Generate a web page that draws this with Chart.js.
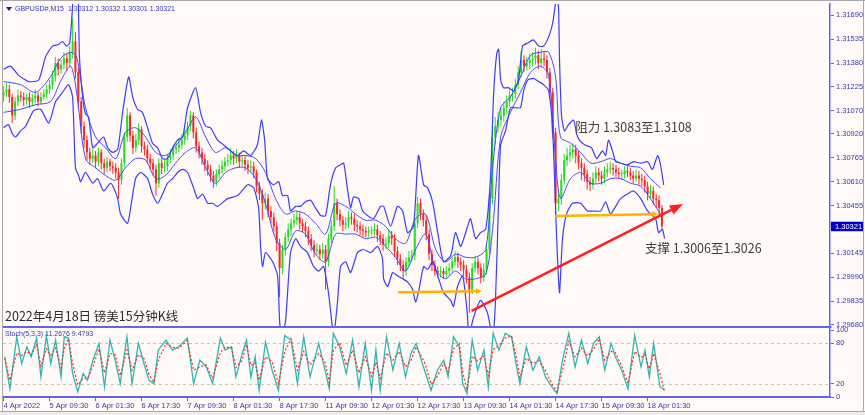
<!DOCTYPE html>
<html lang="zh">
<head>
<meta charset="utf-8">
<title>GBPUSD M15</title>
<script src="https://cdn.jsdelivr.net/npm/chart.js@4.4.1/dist/chart.umd.min.js"></script>
<style>
html,body{margin:0;padding:0;background:#fffaf7;overflow:hidden;}
#wrap{position:relative;width:865px;height:415px;background:#fffaf7;}
#c1{position:absolute;left:0;top:0;}
#c2{position:absolute;left:0;top:327px;}
</style>
</head>
<body>
<div id="wrap">
<canvas id="c1" width="865" height="328"></canvas>
<canvas id="c2" width="865" height="88"></canvas>
</div>
<script>
// ---------- DATA (hourly aggregation of the M15 chart, x = hour index) ----------
const hourLabels = ["4 Apr 2022","5 Apr 09:30","6 Apr 01:30","6 Apr 17:30","7 Apr 09:30","8 Apr 01:30","8 Apr 17:30","11 Apr 09:30","12 Apr 01:30","12 Apr 17:30","13 Apr 09:30","14 Apr 01:30","14 Apr 17:30","15 Apr 09:30","18 Apr 01:30"];
const labelHours = [0,16,32,48,64,80,96,112,128,144,160,176,192,208,224];
const priceTicks = [1.31690,1.31535,1.31380,1.31225,1.31070,1.30920,1.30765,1.30610,1.30455,1.30145,1.29990,1.29835,1.29680];
const stochTicks = [0,20,80,100];
const lastBar = ["1.30312","1.30332","1.30301","1.30321"];
const stochNow = ["11.2676","9.4793"];

const openP = [
1.3117,1.3119,1.3121,1.3116,1.3104,1.3113,1.3117,1.3116,1.3114,1.3116,
1.3113,1.3115,1.3117,1.3113,1.3116,1.3118,1.3121,1.3124,1.3129,1.3138,
1.3134,1.3137,1.3141,1.3138,1.3145,1.3152,1.3132,1.3113,1.3097,1.3088,
1.3080,1.3076,1.3078,1.3074,1.3080,1.3073,1.3070,1.3074,1.3071,1.3070,
1.3067,1.3062,1.3073,1.3090,1.3104,1.3091,1.3083,1.3088,1.3095,1.3084,
1.3082,1.3076,1.3073,1.3069,1.3060,1.3073,1.3070,1.3071,1.3076,1.3078,
1.3082,1.3083,1.3085,1.3088,1.3091,1.3097,1.3104,1.3093,1.3084,1.3080,
1.3076,1.3072,1.3069,1.3065,1.3061,1.3066,1.3069,1.3071,1.3074,1.3075,
1.3078,1.3076,1.3078,1.3074,1.3075,1.3072,1.3070,1.3071,1.3067,1.3058,
1.3053,1.3047,1.3050,1.3042,1.3038,1.3032,1.3021,1.3005,1.3017,1.3025,
1.3030,1.3034,1.3036,1.3038,1.3034,1.3032,1.3029,1.3024,1.3020,1.3016,
1.3017,1.3014,1.3017,1.3009,1.3024,1.3032,1.3047,1.3040,1.3036,1.3033,
1.3034,1.3038,1.3037,1.3033,1.3032,1.3030,1.3029,1.3028,1.3029,1.3029,
1.3030,1.3026,1.3024,1.3020,1.3021,1.3026,1.3024,1.3016,1.3011,1.3007,
1.3003,1.3009,1.3012,1.3013,1.3034,1.3047,1.3040,1.3036,1.3027,1.3014,
1.3007,1.3003,1.3002,1.3003,1.3001,1.3003,1.3005,1.3009,1.3012,1.3009,
1.3007,1.3004,1.2999,1.2991,1.3005,1.3009,1.3005,1.2999,1.3004,1.3017,
1.3050,1.3090,1.3097,1.3101,1.3104,1.3109,1.3113,1.3117,1.3118,1.3124,
1.3132,1.3140,1.3136,1.3138,1.3140,1.3141,1.3143,1.3138,1.3141,1.3140,
1.3132,1.3119,1.3093,1.3047,1.3050,1.3062,1.3075,1.3078,1.3080,1.3082,
1.3078,1.3073,1.3070,1.3066,1.3061,1.3059,1.3063,1.3067,1.3065,1.3063,
1.3067,1.3069,1.3070,1.3069,1.3067,1.3066,1.3066,1.3068,1.3067,1.3065,
1.3063,1.3065,1.3063,1.3062,1.3058,1.3053,1.3055,1.3050,1.3049,1.3044];
const closeP = [
1.3119,1.3121,1.3116,1.3104,1.3113,1.3117,1.3116,1.3114,1.3116,1.3113,
1.3115,1.3117,1.3113,1.3116,1.3118,1.3121,1.3124,1.3129,1.3138,1.3134,
1.3137,1.3141,1.3138,1.3145,1.3152,1.3132,1.3113,1.3097,1.3088,1.3080,
1.3076,1.3078,1.3074,1.3080,1.3073,1.3070,1.3074,1.3071,1.3070,1.3067,
1.3062,1.3073,1.3090,1.3104,1.3091,1.3083,1.3088,1.3095,1.3084,1.3082,
1.3076,1.3073,1.3069,1.3060,1.3073,1.3070,1.3071,1.3076,1.3078,1.3082,
1.3083,1.3085,1.3088,1.3091,1.3097,1.3104,1.3093,1.3084,1.3080,1.3076,
1.3072,1.3069,1.3065,1.3061,1.3066,1.3069,1.3071,1.3074,1.3075,1.3078,
1.3076,1.3078,1.3074,1.3075,1.3072,1.3070,1.3071,1.3067,1.3058,1.3053,
1.3047,1.3050,1.3042,1.3038,1.3032,1.3021,1.3005,1.3017,1.3025,1.3030,
1.3034,1.3036,1.3038,1.3034,1.3032,1.3029,1.3024,1.3020,1.3016,1.3017,
1.3014,1.3017,1.3009,1.3024,1.3032,1.3047,1.3040,1.3036,1.3033,1.3034,
1.3038,1.3037,1.3033,1.3032,1.3030,1.3029,1.3028,1.3029,1.3029,1.3030,
1.3026,1.3024,1.3020,1.3021,1.3026,1.3024,1.3016,1.3011,1.3007,1.3003,
1.3009,1.3012,1.3013,1.3034,1.3047,1.3040,1.3036,1.3027,1.3014,1.3007,
1.3003,1.3002,1.3003,1.3001,1.3003,1.3005,1.3009,1.3012,1.3009,1.3007,
1.3004,1.2999,1.2991,1.3005,1.3009,1.3005,1.2999,1.3004,1.3017,1.3050,
1.3090,1.3097,1.3101,1.3104,1.3109,1.3113,1.3117,1.3118,1.3124,1.3132,
1.3140,1.3136,1.3138,1.3140,1.3141,1.3143,1.3138,1.3141,1.3140,1.3132,
1.3119,1.3093,1.3047,1.3050,1.3062,1.3075,1.3078,1.3080,1.3082,1.3078,
1.3073,1.3070,1.3066,1.3061,1.3059,1.3063,1.3067,1.3065,1.3063,1.3067,
1.3069,1.3070,1.3069,1.3067,1.3066,1.3066,1.3068,1.3067,1.3065,1.3063,
1.3065,1.3063,1.3062,1.3058,1.3053,1.3055,1.3050,1.3049,1.3044,1.30321];
const highP = [
1.3123,1.3125,1.3124,1.3118,1.3116,1.3121,1.3120,1.3119,1.3118,1.3119,
1.3118,1.3121,1.3119,1.3119,1.3121,1.3124,1.3127,1.3133,1.3142,1.3141,
1.3140,1.3145,1.3144,1.3149,1.3167,1.3158,1.3135,1.3116,1.3100,1.3091,
1.3083,1.3082,1.3081,1.3083,1.3082,1.3076,1.3077,1.3076,1.3074,1.3073,
1.3070,1.3076,1.3093,1.3109,1.3106,1.3094,1.3092,1.3099,1.3097,1.3087,
1.3085,1.3079,1.3076,1.3072,1.3076,1.3076,1.3075,1.3079,1.3082,1.3085,
1.3087,1.3089,1.3092,1.3095,1.3100,1.3107,1.3106,1.3096,1.3087,1.3083,
1.3079,1.3075,1.3072,1.3068,1.3069,1.3072,1.3075,1.3077,1.3079,1.3083,
1.3081,1.3082,1.3080,1.3078,1.3078,1.3075,1.3075,1.3074,1.3069,1.3061,
1.3056,1.3054,1.3053,1.3045,1.3041,1.3035,1.3024,1.3020,1.3028,1.3034,
1.3037,1.3040,1.3042,1.3041,1.3037,1.3035,1.3032,1.3027,1.3023,1.3021,
1.3020,1.3021,1.3020,1.3027,1.3036,1.3058,1.3050,1.3043,1.3039,1.3038,
1.3042,1.3041,1.3040,1.3036,1.3035,1.3033,1.3032,1.3032,1.3032,1.3034,
1.3033,1.3029,1.3027,1.3025,1.3030,1.3029,1.3027,1.3019,1.3014,1.3010,
1.3012,1.3016,1.3017,1.3037,1.3051,1.3050,1.3043,1.3039,1.3030,1.3017,
1.3010,1.3006,1.3006,1.3005,1.3006,1.3008,1.3012,1.3016,1.3015,1.3012,
1.3010,1.3007,1.3002,1.3008,1.3013,1.3012,1.3008,1.3008,1.3020,1.3054,
1.3094,1.3103,1.3106,1.3109,1.3113,1.3117,1.3121,1.3122,1.3128,1.3136,
1.3146,1.3143,1.3142,1.3144,1.3145,1.3148,1.3146,1.3147,1.3145,1.3143,
1.3135,1.3122,1.3096,1.3056,1.3066,1.3079,1.3083,1.3085,1.3086,1.3085,
1.3081,1.3076,1.3073,1.3069,1.3064,1.3067,1.3071,1.3070,1.3068,1.3071,
1.3073,1.3074,1.3073,1.3072,1.3070,1.3069,1.3071,1.3071,1.3070,1.3068,
1.3069,1.3068,1.3066,1.3065,1.3061,1.3059,1.3058,1.3053,1.3052,1.3046];
const lowP = [
1.3113,1.3116,1.3112,1.3099,1.3101,1.3110,1.3113,1.3110,1.3111,1.3109,
1.3110,1.3112,1.3110,1.3111,1.3114,1.3115,1.3118,1.3121,1.3126,1.3130,
1.3131,1.3134,1.3133,1.3135,1.3141,1.3128,1.3108,1.3092,1.3083,1.3075,
1.3072,1.3073,1.3070,1.3071,1.3069,1.3066,1.3067,1.3068,1.3066,1.3063,
1.3050,1.3059,1.3070,1.3087,1.3087,1.3079,1.3080,1.3085,1.3080,1.3078,
1.3073,1.3069,1.3065,1.3052,1.3057,1.3066,1.3067,1.3068,1.3073,1.3075,
1.3079,1.3080,1.3082,1.3085,1.3088,1.3094,1.3089,1.3080,1.3076,1.3072,
1.3068,1.3065,1.3061,1.3057,1.3058,1.3063,1.3066,1.3068,1.3071,1.3072,
1.3072,1.3073,1.3070,1.3071,1.3068,1.3066,1.3067,1.3063,1.3054,1.3049,
1.3036,1.3043,1.3038,1.3034,1.3028,1.3016,1.2986,1.3001,1.3013,1.3022,
1.3026,1.3031,1.3033,1.3030,1.3028,1.3025,1.3020,1.3016,1.3012,1.3013,
1.3010,1.3011,1.2991,1.3006,1.3021,1.3029,1.3036,1.3032,1.3029,1.3030,
1.3031,1.3033,1.3029,1.3028,1.3026,1.3025,1.3025,1.3025,1.3026,1.3026,
1.3022,1.3020,1.3016,1.3017,1.3018,1.3020,1.3012,1.3007,1.3003,1.2998,
1.3000,1.3006,1.3009,1.3010,1.3031,1.3036,1.3032,1.3023,1.3010,1.3003,
1.3000,1.2999,1.2999,1.2998,1.2998,1.3000,1.3002,1.3006,1.3005,1.3003,
1.3000,1.2995,1.2976,1.2988,1.3002,1.3001,1.2995,1.2996,1.3001,1.3014,
1.3046,1.3085,1.3093,1.3097,1.3100,1.3105,1.3110,1.3113,1.3115,1.3121,
1.3129,1.3132,1.3133,1.3134,1.3136,1.3137,1.3134,1.3135,1.3136,1.3128,
1.3115,1.3089,1.3038,1.3042,1.3046,1.3059,1.3071,1.3074,1.3076,1.3073,
1.3069,1.3062,1.3061,1.3056,1.3055,1.3056,1.3060,1.3061,1.3059,1.3060,
1.3064,1.3066,1.3065,1.3064,1.3063,1.3062,1.3063,1.3064,1.3062,1.3060,
1.3061,1.3059,1.3058,1.3054,1.3049,1.3050,1.3046,1.3044,1.3039,1.3030];

// outer bands
const upperX = [0,2.4,5.2,8.7,12.2,14.6,17,19.1,20.5,21.9,23,24,24.7,25.7,26.4,27.5,28.5,29.6,31,32.7,34.8,36.2,37.9,39.7,41.4,43.5,44.9,46.6,48.3,50.1,51.8,53.6,55.3,57,58.8,60.5,62.3,64,66.8,68.5,70.3,72,74.4,76.5,79,81.4,83.5,85.9,88.3,89.7,90.8,91.8,93.9,95.7,97,98.8,99.8,101.6,103.3,105,106.8,108.5,110.3,112,113.7,115.5,117.2,118.3,119.7,120.7,121.7,123.5,124.9,126.6,128.7,131.1,132.2,134.6,137,138.8,140.5,142.6,144.3,146.1,147.5,149.2,151,153,155.5,157.2,159,161.4,162.4,164.2,165.9,167.7,169.4,170.4,171.5,172.2,172.9,173.9,175.7,177.4,179.1,180.5,182.3,184.3,186.1,187.8,189.6,191,192.3,193,193.4,194.1,195.1,196.5,198.3,199.3,200.3,202.1,204.5,206.3,208.3,209.4,210.4,211.8,212.9,214.6,217,219.1,221.6,224,225.7,227.5,228.5,229.6];
const upperY = [1.3134,1.3136,1.3130,1.3126,1.3127,1.3142,1.3149,1.3150,1.3152,1.3149,1.3151,1.3175,1.3200,1.3200,1.3142,1.3116,1.3105,1.3103,1.3083,1.3086,1.3090,1.3083,1.3080,1.3082,1.3106,1.3129,1.3116,1.3108,1.3106,1.3096,1.3086,1.3083,1.3076,1.3076,1.3083,1.3088,1.3090,1.3109,1.3122,1.3106,1.3097,1.3096,1.3088,1.3085,1.3081,1.3078,1.3081,1.3078,1.3085,1.3101,1.3088,1.3063,1.3059,1.3061,1.3052,1.3052,1.3042,1.3045,1.3045,1.3048,1.3049,1.3044,1.3039,1.3039,1.3059,1.3070,1.3072,1.3073,1.3055,1.3044,1.3051,1.3050,1.3042,1.3039,1.3037,1.3045,1.3045,1.3032,1.3045,1.3042,1.3028,1.3032,1.3078,1.3059,1.3057,1.3048,1.3028,1.3009,1.3013,1.3028,1.3019,1.3032,1.3037,1.3024,1.3028,1.3030,1.3065,1.3116,1.3144,1.3147,1.3127,1.3122,1.3122,1.3120,1.3127,1.3149,1.3151,1.3153,1.3149,1.3149,1.3155,1.3164,1.3180,1.3175,1.3138,1.3103,1.3094,1.3098,1.3101,1.3092,1.3088,1.3085,1.3083,1.3076,1.3081,1.3078,1.3088,1.3081,1.3074,1.3073,1.3072,1.3074,1.3073,1.3074,1.3069,1.3078,1.3072,1.3059];
const lowerX = [0,1.7,3.1,4.2,5.9,7.7,10.4,12.9,15.7,18.1,20.5,22.6,24,25,26.1,26.8,28.5,31,32.7,34.8,37.2,38.3,39.7,40.7,43.1,44.2,45.9,47.7,50.1,51.8,53.6,55.3,57,58.8,60.5,62.3,64,66.1,67.5,69.2,71,72.7,74.4,77.9,81.4,84.9,87,88.7,89.4,90.1,91.1,93.6,95.3,96,96.7,98.1,99.8,101.6,103.3,105.7,107.8,109.6,111.3,113,114.1,114.8,116.2,117.2,119,120.7,123.1,125.2,127.7,130.1,131.8,132.2,133.6,135.3,137,138.8,140.5,142.3,143.3,144.3,146.1,147.5,149.2,151,153,155.5,156.5,157.9,159.7,161.4,161.7,163.5,165.9,168.3,170.1,171.1,172.2,172.9,174.6,176.3,178.1,179.8,180.9,182.3,184.3,186.1,187.8,189.6,191,192.3,193,193.4,194.4,195.8,197.9,200.7,203.1,205.2,207.7,209.4,211.1,212.9,214.6,217,219.1,221.6,224,226.8,227.8,229.2,229.9];
const lowerY = [1.3096,1.3098,1.3092,1.3090,1.3094,1.3097,1.3107,1.3108,1.3099,1.3113,1.3119,1.3124,1.3116,1.3070,1.3065,1.3061,1.3067,1.3060,1.3063,1.3055,1.3060,1.3057,1.3050,1.3040,1.3034,1.3044,1.3063,1.3067,1.3063,1.3053,1.3047,1.3053,1.3060,1.3063,1.3067,1.3069,1.3067,1.3057,1.3050,1.3053,1.3047,1.3047,1.3045,1.3050,1.3052,1.3059,1.3057,1.3044,1.3019,1.3006,1.3015,1.3009,1.3000,1.2971,1.2960,1.2971,1.3015,1.3024,1.3019,1.3015,1.3006,1.3003,1.3006,1.2989,1.2971,1.2960,1.2984,1.3006,1.3009,1.3002,1.3015,1.3017,1.3015,1.3019,1.3011,1.2998,1.2993,1.3002,1.3000,1.2998,1.2996,1.2991,1.2983,1.2989,1.3006,1.3004,1.3009,1.3000,1.2989,1.2984,1.2980,1.2993,1.3000,1.2973,1.2960,1.2973,1.2984,1.2976,1.2960,1.2984,1.3050,1.3085,1.3094,1.3109,1.3109,1.3109,1.3120,1.3127,1.3128,1.3126,1.3124,1.3120,1.3094,1.3028,1.2998,1.2989,1.3024,1.3040,1.3047,1.3047,1.3042,1.3042,1.3042,1.3048,1.3040,1.3045,1.3050,1.3053,1.3055,1.3050,1.3042,1.3037,1.3028,1.3030,1.3024];
// inner bands
const innerX = [0,5.9,11.1,16.3,19.8,23.3,25.4,28.5,32,35.5,39,42.4,45.9,49.4,52.9,56.3,59.8,63.3,66.8,70.3,73.7,77.2,80.7,84.2,87.7,91.1,94.6,98.1,101.6,105,108.5,112,115.5,119,122.4,125.9,129.4,132.9,136.3,139.8,143.3,146.8,150.3,153.7,157.2,160.7,164.2,167.7,170.1,172.9,176.3,179.8,183.3,186.8,189.6,192,193.7,197.2,200.7,204.2,207.7,211.1,214.6,218.1,221.6,225,228.5];
const innerUp = [1.3126,1.3124,1.3119,1.3129,1.3141,1.3145,1.3142,1.3109,1.3090,1.3083,1.3076,1.3093,1.3096,1.3090,1.3080,1.3078,1.3084,1.3093,1.3103,1.3090,1.3080,1.3083,1.3078,1.3078,1.3076,1.3067,1.3050,1.3040,1.3042,1.3040,1.3034,1.3027,1.3047,1.3045,1.3040,1.3036,1.3036,1.3032,1.3024,1.3021,1.3037,1.3040,1.3017,1.3009,1.3014,1.3012,1.3012,1.3017,1.3070,1.3109,1.3116,1.3129,1.3143,1.3145,1.3145,1.3129,1.3090,1.3086,1.3080,1.3073,1.3074,1.3076,1.3073,1.3071,1.3070,1.3063,1.3057];
const innerLo = [1.3106,1.3108,1.3111,1.3113,1.3126,1.3136,1.3119,1.3076,1.3070,1.3065,1.3062,1.3070,1.3076,1.3075,1.3063,1.3065,1.3073,1.3080,1.3083,1.3070,1.3060,1.3067,1.3070,1.3070,1.3063,1.3047,1.3024,1.3017,1.3029,1.3027,1.3014,1.3009,1.3027,1.3027,1.3027,1.3024,1.3025,1.3019,1.3012,1.3003,1.3017,1.3027,1.3004,1.2998,1.3003,1.2998,1.2998,1.3001,1.3030,1.3090,1.3106,1.3119,1.3132,1.3136,1.3130,1.3076,1.3050,1.3063,1.3067,1.3060,1.3060,1.3063,1.3063,1.3060,1.3058,1.3050,1.3040];

// stochastic (5,3,3)
const stochX = [0.4,2.2,4.6,6.3,8.1,9.6,11.5,13,14.9,16.4,18.1,20,21.1,22.6,24,25.8,27.7,29.2,31.1,33.2,35.1,37,38.8,40.6,42.9,44.7,46.9,48.8,50.6,52.3,53.8,56.5,58.7,60.9,63.9,66.1,68.3,70.5,72.7,75.4,77.1,79.3,80.8,83,84.5,86,87.5,88.9,91.1,93.4,95.6,97.8,100,102.2,104.4,106.6,109.6,111.8,113.3,114.7,116.9,119.2,121.4,123.6,125.8,128,129.5,131,133.2,135.4,137.6,139.8,141.7,143.5,146.4,148.7,150.9,153.1,154.6,156.5,158.5,159.7,161.2,163,164.9,167.1,168.6,170.3,172.3,174.5,176.7,178.2,179.6,181.8,184.1,186.3,188.5,190.7,192.5,194.4,196.6,198.8,201,203.2,205.2,207.2,209.1,211.3,212.8,215,217.2,219.5,221.7,223.1,224.6,226.1,228.3,229.8];
const stochMain = [60,12,90,50,75,60,88,30,92,50,85,30,90,88,35,8,35,25,55,80,15,85,55,20,90,20,80,50,25,20,70,85,70,75,88,20,55,45,20,88,70,75,30,65,85,30,60,10,82,40,10,92,85,20,90,30,80,40,12,95,75,35,85,15,80,10,70,10,90,40,80,30,65,80,40,10,40,55,30,90,75,20,5,85,40,70,15,95,70,95,90,50,20,75,40,60,30,15,5,55,95,45,85,50,80,90,40,80,60,40,12,92,45,70,30,80,15,11.3];
const stochSignal = [58,25,66,62,68,63,78,46,72,62,73,44,72,87,50,18,28,28,46,72,36,65,63,32,70,40,63,58,33,22,55,80,74,73,84,40,45,48,28,66,75,73,44,55,78,47,51,25,60,53,20,68,87,40,68,48,65,52,22,70,81,47,70,36,60,31,52,28,66,55,68,45,55,75,52,19,31,50,38,72,80,36,10,61,54,61,32,71,77,88,91,62,29,58,50,54,39,20,8,40,83,60,73,61,71,87,55,68,66,46,20,68,59,63,42,65,35,9.5];

// hand-drawn annotations (hour index, price)
const supportLineA = {x:[137.2,166.4], y:[1.29892,1.29900]};
const supportLineB = {x:[191.8,227.6], y:[1.30387,1.30400]};
const trendArrow   = {x:[162.8,236.3], y:[1.29771,1.30465]};
const resistText = {x:198.8, y:1.30964, text:"阻力 1.3083至1.3108"};
const supportText = {x:223.1, y:1.30179, text:"支撑 1.3006至1.3026"};
const caption = "2022年4月18日 镑美15分钟K线";

// ---------- STYLE ----------
const X_MIN = -0.2, X_MAX = 287.45;
const P_MIN = 1.296735, P_MAX = 1.317633;
const AX = '#6464e6';
const TXT = '#3a3aa8';
const SANS = "'Liberation Sans',Arial,sans-serif";
const CJK = "'Noto Sans CJK SC','Noto Sans',sans-serif";
const BULL = '#22dd22', BEAR = '#ff2424', BAND = '#3c3cff';

function arrowLine(ctx,x1,y1,x2,y2,color,w,hl,hw){
  const a = Math.atan2(y2-y1,x2-x1);
  const bx = x2-hl*Math.cos(a), by = y2-hl*Math.sin(a);
  ctx.strokeStyle=color; ctx.lineWidth=w; ctx.lineCap='butt';
  ctx.beginPath(); ctx.moveTo(x1,y1); ctx.lineTo(bx,by); ctx.stroke();
  ctx.fillStyle=color; ctx.beginPath(); ctx.moveTo(x2,y2);
  ctx.lineTo(bx-hw*Math.sin(a), by+hw*Math.cos(a));
  ctx.lineTo(bx+hw*Math.sin(a), by-hw*Math.cos(a));
  ctx.closePath(); ctx.fill();
}

const candleColor = i => closeP[i] >= openP[i] ? BULL : BEAR;
const pts = (xs,ys) => xs.map((x,i)=>({x:x, y:ys[i]}));

const mainDecor = {
  id:'mainDecor',
  afterDatasetsDraw(chart){
    const {ctx, chartArea:a} = chart; const x = chart.scales.x, y = chart.scales.y;
    ctx.save();
    ctx.beginPath(); ctx.rect(a.left,a.top,a.right-a.left,a.bottom-a.top); ctx.clip();
    [supportLineA,supportLineB].forEach(s=>{
      arrowLine(ctx,x.getPixelForValue(s.x[0]),y.getPixelForValue(s.y[0]),x.getPixelForValue(s.x[1]),y.getPixelForValue(s.y[1]),'#ffb300',2.5,6,3);
    });
    arrowLine(ctx,x.getPixelForValue(trendArrow.x[0]),y.getPixelForValue(trendArrow.y[0]),x.getPixelForValue(trendArrow.x[1]),y.getPixelForValue(trendArrow.y[1]),'#ff1f1f',2.5,13,5);
    ctx.fillStyle='#404040'; ctx.font='12.5px '+CJK; ctx.textBaseline='middle'; ctx.textAlign='left';
    [resistText,supportText].forEach(t=>ctx.fillText(t.text, x.getPixelForValue(t.x), y.getPixelForValue(t.y)));
    ctx.fillStyle='#2b2b2b'; ctx.font='12.5px '+CJK;
    ctx.fillText(caption, a.left+2, a.bottom-10);
    ctx.restore();
  },
  afterDraw(chart){
    const {ctx, chartArea:a} = chart; const y = chart.scales.y;
    ctx.save();
    ctx.fillStyle='#a8a8a8'; ctx.fillRect(0,0,865,1); ctx.fillRect(2,0,1,328); ctx.fillRect(863,0,1,328);
    ctx.fillStyle=AX; ctx.fillRect(a.left,a.bottom,a.right-a.left+1.5,2);
    ctx.fillStyle='#20208a'; ctx.beginPath(); ctx.moveTo(6,7); ctx.lineTo(12,7); ctx.lineTo(9,11); ctx.closePath(); ctx.fill();
    ctx.fillStyle='#3535c0'; ctx.font='7px '+SANS; ctx.textBaseline='middle'; ctx.textAlign='left';
    ctx.fillText('GBPUSD#,M15  '+lastBar.join(' '), 15, 9.5);
    const last = closeP[closeP.length-1];
    const py = y.getPixelForValue(last);
    ctx.fillStyle='#0000c4'; ctx.fillRect(a.right+1, py-4.5, 32, 9.5);
    ctx.fillStyle='#ffffff'; ctx.font='7.5px '+SANS;
    ctx.fillText(last.toFixed(5), a.right+5, py+0.5);
    ctx.restore();
  }
};

new Chart(document.getElementById('c1'), {
  type:'bar',
  data:{datasets:[
    {type:'line', data:pts(upperX,upperY), borderColor:BAND, borderWidth:1.2, pointRadius:0, tension:0.2, order:0},
    {type:'line', data:pts(lowerX,lowerY), borderColor:BAND, borderWidth:1.2, pointRadius:0, tension:0.2, order:0},
    {type:'line', data:pts(innerX,innerUp), borderColor:'#4848ff', borderWidth:1, pointRadius:0, tension:0.3, order:1},
    {type:'line', data:pts(innerX,innerLo), borderColor:'#4848ff', borderWidth:1, pointRadius:0, tension:0.3, order:1},
    {type:'bar', data:closeP.map((c,j)=>({x:j, y:[openP[j],c]})), backgroundColor:ctx=>candleColor(ctx.dataIndex), barThickness:2, grouped:false, minBarLength:1, inflateAmount:0, order:5},
    {type:'bar', data:highP.map((h,j)=>({x:j, y:[lowP[j],h]})), backgroundColor:ctx=>candleColor(ctx.dataIndex), barThickness:1, grouped:false, inflateAmount:0, order:6}
  ]},
  options:{
    responsive:false, animation:false, events:[],
    layout:{padding:{left:3, top:4, right:0, bottom:2}},
    plugins:{legend:{display:false}, tooltip:{enabled:false}},
    scales:{
      x:{type:'linear', min:X_MIN, max:X_MAX, display:false, offset:false},
      y:{position:'right', min:P_MIN, max:P_MAX,
         afterBuildTicks:s=>{s.ticks=priceTicks.map(v=>({value:v}));},
         afterFit:s=>{s.width=35; s.paddingTop=0; s.paddingBottom=0;},
         ticks:{callback:v=>Number(v).toFixed(5), autoSkip:false, padding:2, color:TXT, font:{family:SANS, size:7.5}},
         grid:{drawOnChartArea:false, tickLength:4, color:AX},
         border:{color:AX, width:1.5}}
    }
  },
  plugins:[mainDecor]
});

const stochDecor = {
  id:'stochDecor',
  beforeDatasetsDraw(chart){
    const {ctx, chartArea:a} = chart; const y = chart.scales.y;
    ctx.save(); ctx.strokeStyle='#c4c4c4'; ctx.lineWidth=1; ctx.setLineDash([3,3]);
    [20,80].forEach(v=>{ const py=Math.round(y.getPixelForValue(v))+0.5; ctx.beginPath(); ctx.moveTo(a.left,py); ctx.lineTo(a.right,py); ctx.stroke(); });
    ctx.restore();
  },
  afterDraw(chart){
    const {ctx} = chart;
    ctx.save();
    ctx.fillStyle='#a8a8a8'; ctx.fillRect(2,0,1,85); ctx.fillRect(863,0,1,85); ctx.fillRect(0,84,865,1);
    ctx.fillStyle='#ececec'; ctx.fillRect(0,85,865,3);
    ctx.fillStyle='#3535c0'; ctx.font='7px '+SANS; ctx.textBaseline='middle'; ctx.textAlign='left';
    ctx.fillText('Stoch(5,3,3) '+stochNow.join(' '), 5, 7.5);
    ctx.restore();
  }
};

new Chart(document.getElementById('c2'), {
  type:'line',
  data:{datasets:[
    {data:pts(stochX,stochSignal), borderColor:'#ff2a2a', borderDash:[2,2], borderWidth:1.2, pointRadius:0, order:0},
    {data:pts(stochX,stochMain), borderColor:'#2cb8b0', borderWidth:1.3, pointRadius:0, order:1}
  ]},
  options:{
    responsive:false, animation:false, events:[],
    layout:{padding:{left:3, top:1, right:0, bottom:0}},
    plugins:{legend:{display:false}, tooltip:{enabled:false}},
    scales:{
      x:{type:'linear', min:X_MIN, max:X_MAX, offset:false,
         afterBuildTicks:s=>{s.ticks=labelHours.map(v=>({value:v}));},
         afterFit:s=>{s.height=18; s.paddingLeft=0; s.paddingRight=0;},
         ticks:{align:'start', autoSkip:false, maxRotation:0, minRotation:0, padding:0, color:TXT, font:{family:SANS, size:7.5}, callback:(v,i)=>hourLabels[i]},
         grid:{drawOnChartArea:false, tickLength:4, color:AX},
         border:{color:AX, width:2}},
      y:{position:'right', min:0, max:103,
         afterBuildTicks:s=>{s.ticks=stochTicks.map(v=>({value:v}));},
         afterFit:s=>{s.width=35; s.paddingTop=0; s.paddingBottom=0;},
         ticks:{autoSkip:false, padding:2, color:TXT, font:{family:SANS, size:7.5}},
         grid:{drawOnChartArea:false, tickLength:4, color:AX},
         border:{color:AX, width:1.5}}
    }
  },
  plugins:[stochDecor]
});
</script>
</body>
</html>
